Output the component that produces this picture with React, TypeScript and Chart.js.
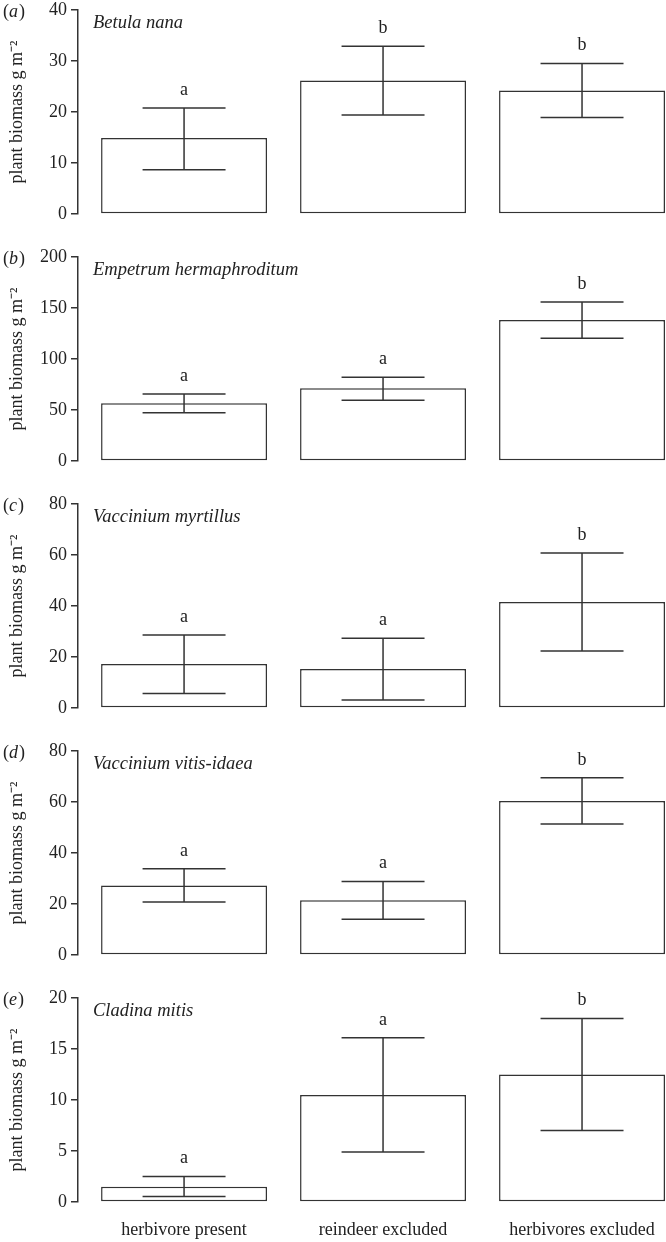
import React, { useEffect, useRef } from "react";
import { Chart, registerables } from "chart.js";

Chart.register(...registerables);

// ---------- data ----------
const categories = ["herbivore present", "reindeer excluded", "herbivores excluded"];
const panelLetters = ["a", "b", "c", "d", "e"];
const speciesNames = [
  "Betula nana",
  "Empetrum hermaphroditum",
  "Vaccinium myrtillus",
  "Vaccinium vitis-idaea",
  "Cladina mitis",
];

const betulaMean = [14.9, 26.2, 24.2];
const betulaLow = [8.7, 19.4, 18.9];
const betulaHigh = [20.8, 32.9, 29.5];
const betulaSig = ["a", "b", "b"];

const empetrumMean = [56.6, 71.3, 138.2];
const empetrumLow = [47.4, 59.5, 120.3];
const empetrumHigh = [65.7, 82.0, 155.9];
const empetrumSig = ["a", "a", "b"];

const myrtillusMean = [17.3, 15.3, 41.6];
const myrtillusLow = [5.7, 3.1, 22.4];
const myrtillusHigh = [28.6, 27.4, 60.8];
const myrtillusSig = ["a", "a", "b"];

const vitisMean = [27.3, 21.5, 60.4];
const vitisLow = [20.8, 14.0, 51.4];
const vitisHigh = [33.8, 28.8, 69.5];
const vitisSig = ["a", "a", "b"];

const cladinaMean = [1.5, 10.5, 12.5];
const cladinaLow = [0.55, 4.9, 7.0];
const cladinaHigh = [2.5, 16.1, 18.0];
const cladinaSig = ["a", "a", "b"];

const yMaxes = [40, 200, 80, 80, 20];
const ySteps = [10, 50, 20, 20, 5];

const yTitle = "plant biomass g m\u207B\u00B2";

// ---------- styling ----------
const INK = "#333333";
const TEXT = "#222222";
const FONT = "'Liberation Serif', 'Times New Roman', Times, serif";
const W = 666;
const PITCH = 247;
const TOTAL_H = 1242;

const panels = [
  { mean: betulaMean, low: betulaLow, high: betulaHigh, sig: betulaSig },
  { mean: empetrumMean, low: empetrumLow, high: empetrumHigh, sig: empetrumSig },
  { mean: myrtillusMean, low: myrtillusLow, high: myrtillusHigh, sig: myrtillusSig },
  { mean: vitisMean, low: vitisLow, high: vitisHigh, sig: vitisSig },
  { mean: cladinaMean, low: cladinaLow, high: cladinaHigh, sig: cladinaSig },
];

function makeOverlay(idx: number) {
  const p = panels[idx];
  return {
    id: "overlay" + idx,
    afterDatasetsDraw(chart: any) {
      const { ctx, chartArea, scales } = chart;
      const x = scales.x;
      const y = scales.y;
      const meta = chart.getDatasetMeta(0);
      ctx.save();
      ctx.strokeStyle = INK;
      ctx.lineWidth = 1.5;
      ctx.fillStyle = TEXT;
      ctx.font = `18px ${FONT}`;
      ctx.textAlign = "center";
      ctx.textBaseline = "middle";
      p.mean.forEach((_: number, i: number) => {
        const bar = meta.data[i];
        const cx = x.getPixelForValue(i);
        const half = bar.width / 4;
        const yh = y.getPixelForValue(p.high[i]);
        const yl = y.getPixelForValue(p.low[i]);
        ctx.beginPath();
        ctx.moveTo(cx, yh);
        ctx.lineTo(cx, yl);
        ctx.moveTo(cx - half, yh);
        ctx.lineTo(cx + half, yh);
        ctx.moveTo(cx - half, yl);
        ctx.lineTo(cx + half, yl);
        ctx.stroke();
        ctx.fillText(p.sig[i], cx, yh - 18);
      });
      // species name
      ctx.textAlign = "left";
      ctx.font = `italic 18.5px ${FONT}`;
      ctx.fillText(speciesNames[idx], chartArea.left + 15, chartArea.top + 13);
      // panel label, e.g. (a)
      ctx.font = `18px ${FONT}`;
      let px = 3;
      const py = chartArea.top + 2;
      ctx.fillText("(", px, py);
      px += ctx.measureText("(").width;
      ctx.font = `italic 18px ${FONT}`;
      ctx.fillText(panelLetters[idx], px, py);
      px += ctx.measureText(panelLetters[idx]).width + 1;
      ctx.font = `18px ${FONT}`;
      ctx.fillText(")", px, py);
      ctx.restore();
    },
  };
}

function Panel({ idx }: { idx: number }) {
  const ref = useRef<HTMLCanvasElement | null>(null);
  const isLast = idx === panels.length - 1;
  const h = isLast ? TOTAL_H - PITCH * idx : PITCH;

  useEffect(() => {
    const canvas = ref.current;
    if (!canvas) return;
    const p = panels[idx];
    const chart = new Chart(canvas, {
      type: "bar",
      data: {
        datasets: [
          {
            data: p.mean.map((v: number, i: number) => ({ x: i, y: v })),
            backgroundColor: "#ffffff",
            borderColor: INK,
            borderWidth: 1.5,
            borderSkipped: false,
            barPercentage: 0.834,
            categoryPercentage: 1,
          },
        ],
      },
      options: {
        animation: false,
        responsive: false,
        maintainAspectRatio: false,
        devicePixelRatio: 1,
        layout: { padding: { top: 10, bottom: isLast ? 0 : 33, left: 0, right: 0 } },
        plugins: { legend: { display: false }, tooltip: { enabled: false }, title: { display: false } },
        scales: {
          x: {
            type: "linear",
            offset: false,
            min: -0.533,
            max: 2.422,
            afterBuildTicks: (scale: any) => {
              scale.ticks = categories.map((_, i) => ({ value: i }));
            },
            afterFit: (scale: any) => {
              scale.paddingLeft = 0;
              scale.paddingRight = 0;
              scale.height = isLast ? 40 : 0;
            },
            grid: { display: false, drawTicks: false, offset: false },
            border: { display: false },
            ticks: {
              display: isLast,
              padding: 17,
              maxRotation: 0,
              autoSkip: false,
              color: TEXT,
              font: { family: FONT, size: 18 },
              callback: (v: any) => categories[v as number] ?? "",
            },
          },
          y: {
            min: 0,
            max: yMaxes[idx],
            afterFit: (scale: any) => {
              scale.width = 78;
              scale.paddingTop = 0;
              scale.paddingBottom = 0;
            },
            ticks: {
              stepSize: ySteps[idx],
              padding: 4,
              color: TEXT,
              font: { family: FONT, size: 18 },
            },
            grid: {
              drawOnChartArea: false,
              drawTicks: true,
              tickLength: 7,
              color: INK,
              lineWidth: 1.5,
            },
            border: { display: true, color: INK, width: 1.5 },
            title: {
              display: true,
              text: yTitle,
              color: TEXT,
              font: { family: FONT, size: 18 },
              padding: { top: 6, bottom: 0 },
            },
          },
        },
      },
      plugins: [makeOverlay(idx)],
    } as any);
    return () => chart.destroy();
  }, [idx]);

  return (
    <canvas
      ref={ref}
      width={W}
      height={h}
      style={{ position: "absolute", left: 0, top: PITCH * idx, width: W, height: h, display: "block" }}
    />
  );
}

export default function App() {
  return (
    <div
      style={{
        position: "absolute",
        left: 0,
        top: 0,
        width: W,
        height: TOTAL_H,
        overflow: "hidden",
        background: "#fff",
      }}
    >
      {panels.map((_, i) => (
        <Panel key={i} idx={i} />
      ))}
    </div>
  );
}
